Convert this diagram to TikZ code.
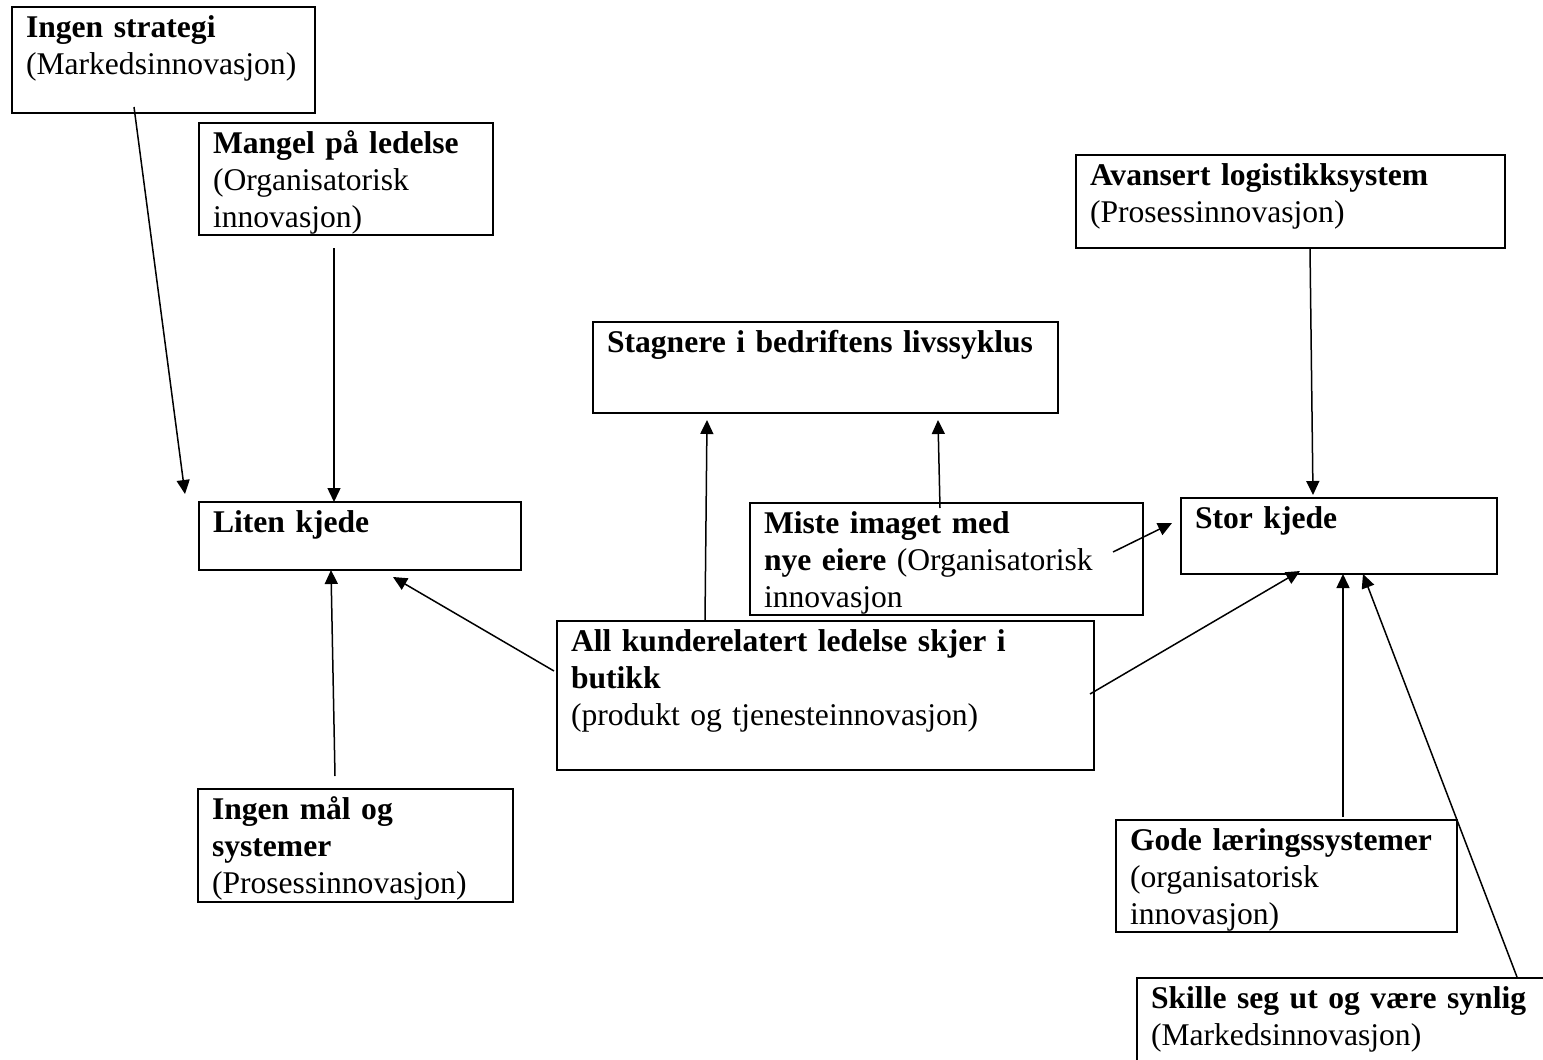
\documentclass[tikz,border=0pt]{standalone}
\usepackage{fontspec}
\setmainfont{Liberation Serif}
\usetikzlibrary{calc,arrows.meta}

\begin{document}
\begin{tikzpicture}[x=0.5pt, y=-0.5pt,
                      box/.style = {shape=rectangle, draw, line width=1.1pt,
                        anchor=north west, outer sep=0pt,
                        inner xsep=7pt, inner ysep=0pt,
                        text height=15pt, align=left,
                        font=\fontsize{15.8pt}{18.5pt}\selectfont},
                      link/.style = {line width=0.75pt,
                        -{Triangle[length=7pt,width=6.5pt]}}]
                      \clip (0,0) rectangle (1543,1060);
                      \fill[white] (0,0) rectangle (1543,1060);
                      % left side
                      \node[box, text width=137.5pt, text depth=38pt] (strat) at (12,7)
                        {\textbf{Ingen strategi}\\(Markedsinnovasjon)};
                      \node[box, text width=133pt, text depth=41pt] (mangel) at (199,123)
                        {\textbf{Mangel på ledelse}\\(Organisatorisk\\innovasjon)};
                      \node[box, text width=147pt, text depth=19pt] (liten) at (199,502)
                        {\textbf{Liten kjede}};
                      \node[box, text width=143.5pt, text depth=41.5pt] (ingenmaal) at (198,789)
                        {\textbf{Ingen mål og}\\\textbf{systemer}\\(Prosessinnovasjon)};
                      % middle
                      \node[box, text width=218.5pt, text depth=30.5pt] (stagnere) at (593,322)
                        {\textbf{Stagnere i bedriftens livssyklus}};
                      \node[box, text width=182.5pt, text depth=41pt] (miste) at (750,503)
                        {\textbf{Miste imaget med}\\\textbf{nye eiere} (Organisatorisk\\innovasjon};
                      \node[box, text width=254.5pt, text depth=59.5pt] (allkunde) at (557,621)
                        {\textbf{All kunderelatert ledelse skjer i}\\\textbf{butikk}\\(produkt og tjenesteinnovasjon)};
                      % right side
                      \node[box, text width=200.5pt, text depth=31.5pt] (avansert) at (1076,155)
                        {\textbf{Avansert logistikksystem}\\(Prosessinnovasjon)};
                      \node[box, text width=144pt, text depth=23pt] (stor) at (1181,498)
                        {\textbf{Stor kjede}};
                      \node[box, text width=156.5pt, text depth=41pt] (gode) at (1116,820)
                        {\textbf{Gode læringssystemer}\\(organisatorisk\\innovasjon)};
                      \node[box, text width=202.5pt, text depth=41pt] (skille) at (1137,978)
                        {\textbf{Skille seg ut og være synlig}\\(Markedsinnovasjon)};
                      % arrows
                      \draw[link] ($(strat.south west)+(122,-6)$) -- ($(liten.north west)+(-14,-8)$);
                      \draw[link] ($(mangel.south west)+(135,13)$) -- ($(liten.north west)+(135,0)$);
                      \draw[link] ($(ingenmaal.north west)+(137,-13)$) -- ($(liten.south west)+(132,0)$);
                      \draw[link] ($(allkunde.north west)+(-3,50)$) -- ($(liten.south west)+(194,7)$);
                      \draw[link] ($(allkunde.north west)+(148,0)$) -- ($(stagnere.south west)+(114,7)$);
                      \draw[link] ($(miste.north west)+(190,5)$) -- ($(stagnere.south west)+(345,7)$);
                      \draw[link] ($(miste.north east)+(-30,49)$) -- ($(stor.north west)+(-9,25)$);
                      \draw[link] ($(avansert.south west)+(234,0)$) -- ($(stor.north west)+(132,-3)$);
                      \draw[link] ($(allkunde.north east)+(-4,73)$) -- ($(stor.south west)+(119,-3)$);
                      \draw[link] ($(gode.north west)+(227,-3)$) -- ($(stor.south west)+(162,0)$);
                      \draw[link] ($(skille.north west)+(380,-1)$) -- ($(stor.south west)+(182,0)$);
                    \end{tikzpicture}
\end{document}
